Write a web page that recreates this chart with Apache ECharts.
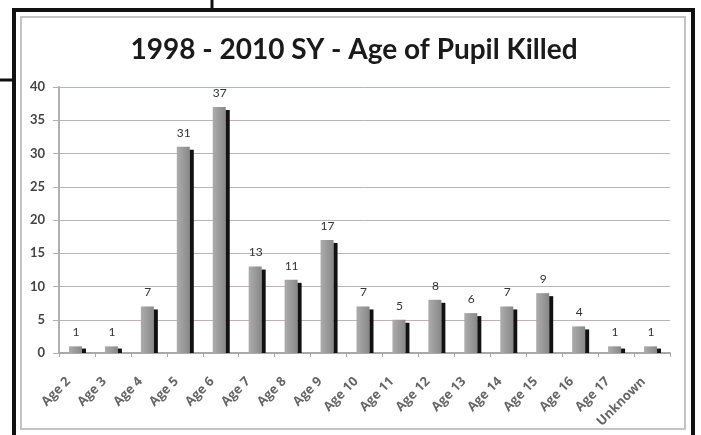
<!DOCTYPE html>
<html>
<head>
<meta charset="utf-8">
<script src="https://cdn.jsdelivr.net/npm/echarts@6/dist/echarts.min.js"></script>
<style>
	html, body {margin: 0; padding: 0; background: #fff;}
	#chart {width: 701px; height: 435px;}
</style>
</head>
<body>
<div id="chart"></div>
<script>
const categories = ['Age 2', 'Age 3', 'Age 4', 'Age 5', 'Age 6', 'Age 7', 'Age 8', 'Age 9', 'Age 10',
	'Age 11', 'Age 12', 'Age 13', 'Age 14', 'Age 15', 'Age 16', 'Age 17', 'Unknown'];
const killed = [1, 1, 7, 31, 37, 13, 11, 17, 7, 5, 8, 6, 7, 9, 4, 1, 1];
const yTicks = {min: 0, max: 40, interval: 5};

const chart = echarts.init(document.getElementById('chart'));

// front face + dark side, like the old excel 3d-ish bars
const renderBar = (params, api) => {
	const idx = api.value(0);
	const val = api.value(1);
	const top = api.coord([idx, val]);
	const base = api.coord([idx, 0]);
	const cx = top[0];
	const h = base[1] - top[1];
	const drop = Math.min(3, h / 3);
	return {
		type: 'group',
		children: [{
			type: 'rect',
			shape: {x: cx - 8, y: top[1], width: 13, height: h},
			style: {
				fill: new echarts.graphic.LinearGradient(0, 0, 1, 0, [
					{offset: 0, color: '#acacac'},
					{offset: 1, color: '#888'}
				])
			}
		}, {
			type: 'rect',
			shape: {x: cx + 5, y: top[1] + drop, width: 4, height: h - drop},
			style: {fill: '#111'}
		}, {
			type: 'text',
			style: {
				text: String(val),
				x: cx - 1,
				y: top[1] - 8,
				align: 'center',
				verticalAlign: 'bottom',
				fill: '#333',
				font: '12px Lato'
			}
		}]
	};
};

chart.setOption({
	backgroundColor: '#fff',
	title: {
		text: '1998 - 2010 SY - Age of Pupil Killed',
		left: 349,
		top: 31,
		textAlign: 'center',
		textStyle: {fontFamily: 'Lato', fontSize: 28, fontWeight: 'bold', color: '#1a1a1a'}
	},
	graphic: [
		{type: 'rect', shape: {x: 14, y: 10, width: 679, height: 440}, style: {fill: 'none', stroke: '#111', lineWidth: 4}},
		{type: 'rect', shape: {x: 21, y: 17, width: 664, height: 412}, style: {fill: 'none', stroke: '#c4c4c4', lineWidth: 2}},
		{type: 'line', shape: {x1: 0, y1: 80, x2: 14, y2: 80}, style: {stroke: '#111', lineWidth: 3}},
		{type: 'line', shape: {x1: 212, y1: 0, x2: 212, y2: 10}, style: {stroke: '#111', lineWidth: 3}}
	],
	grid: {left: 59, right: 31, top: 87, bottom: 82},
	xAxis: {
		type: 'category',
		data: categories,
		axisLine: {lineStyle: {color: '#a9a9a9', width: 2}},
		axisTick: {show: true, length: 4, lineStyle: {color: '#a9a9a9'}},
		axisLabel: {
			rotate: 45, fontFamily: 'Open Sans', fontSize: 13, fontWeight: 'bold',
			color: '#666', margin: 18, padding: [0, 12, 0, 0]
		}
	},
	yAxis: {
		type: 'value',
		min: yTicks.min,
		max: yTicks.max,
		interval: yTicks.interval,
		axisLine: {show: true, lineStyle: {color: '#b0b0b0', width: 2}},
		axisTick: {show: true, length: 6, lineStyle: {color: '#b8aeae'}},
		axisLabel: {fontFamily: 'Lato', fontSize: 13, color: '#444', margin: 14, fontWeight: 'bold'},
		splitLine: {lineStyle: {color: '#bdb3b3', width: 1}}
	},
	series: [{
		type: 'custom',
		renderItem: renderBar,
		encode: {x: 0, y: 1},
		data: killed.map((v, i) => [i, v])
	}]
});
</script>
</body>
</html>
